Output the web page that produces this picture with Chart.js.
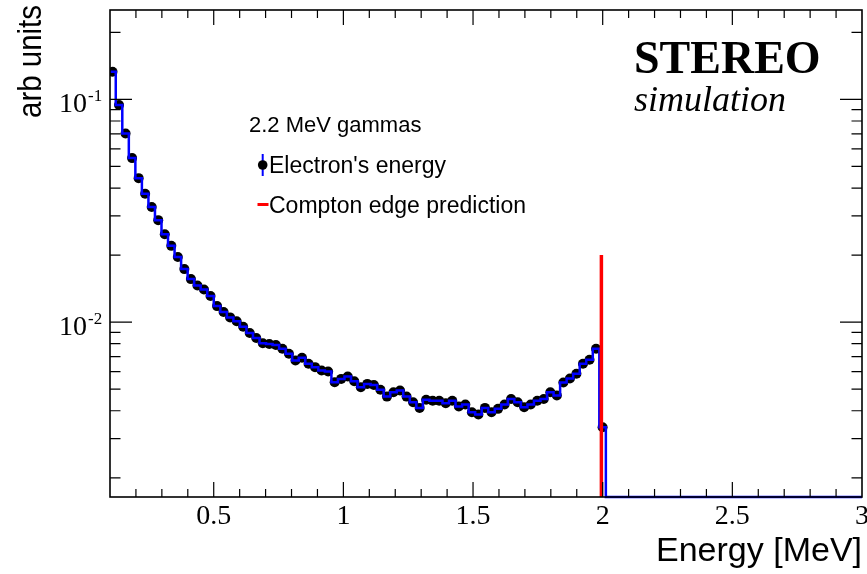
<!DOCTYPE html>
<html>
<head>
<meta charset="utf-8">
<script src="https://cdn.jsdelivr.net/npm/chart.js@4/dist/chart.umd.min.js"></script>
<style>
html,body{margin:0;padding:0;background:#ffffff;}
canvas{display:block;}
</style>
</head>
<body>
<canvas id="c" width="867" height="574"></canvas>
<script>
// ---- data ----
const binLow = 0.097;      // low edge of first bin (MeV)
const binWidth = 0.0252;   // bin width (MeV)
const electronEnergy = [
  0.1331, 0.0943, 0.0703, 0.0545, 0.0443, 0.0377, 0.0329, 0.0287, 0.0248, 0.0220,
  0.0196, 0.0173, 0.0156, 0.0146, 0.0140, 0.0131, 0.0118, 0.0111, 0.0105, 0.0101,
  0.00953, 0.00894, 0.00849, 0.00804, 0.00798, 0.00790, 0.00759, 0.00721, 0.00673, 0.00692,
  0.00650, 0.00628, 0.00607, 0.00600, 0.00537, 0.00556, 0.00570, 0.00543, 0.00510, 0.00528,
  0.00522, 0.00497, 0.00463, 0.00484, 0.00493, 0.00463, 0.00437, 0.00412, 0.00448, 0.00444,
  0.00444, 0.00432, 0.00444, 0.00418, 0.00427, 0.00394, 0.00385, 0.00412, 0.00394, 0.00408,
  0.00427, 0.00452, 0.00437, 0.00415, 0.00427, 0.00444, 0.00452, 0.00484, 0.00468, 0.00536,
  0.00558, 0.00586, 0.00650, 0.00678, 0.00759, 0.00337
];
const comptonEdge = [1.995];
const comptonTop = [0.02];

const xRange = [0.1, 3.0];
const yRange = [0.00164, 0.252];
const xMajorTicks = [0.5, 1, 1.5, 2, 2.5, 3];
const xTickLabels = ['0.5', '1', '1.5', '2', '2.5', '3'];
const xMinorTicks = [0.2,0.3,0.4,0.6,0.7,0.8,0.9,1.1,1.2,1.3,1.4,1.6,1.7,1.8,1.9,2.1,2.2,2.3,2.4,2.6,2.7,2.8,2.9];
const yMajorTicks = [0.01, 0.1];
const yTickBase = ['10', '10'];
const yTickExp = ['-2', '-1'];
const yMinorTicks = [0.002,0.003,0.004,0.005,0.006,0.007,0.008,0.009,0.02,0.03,0.04,0.05,0.06,0.07,0.08,0.09,0.2];

const xTitle = 'Energy [MeV]';
const yTitle = 'arb units';
const legendHeader = '2.2 MeV gammas';
const legendEntries = ["Electron's energy", 'Compton edge prediction'];
const expName = 'STEREO';
const expSub = 'simulation';

// ---- build datasets from the arrays ----
const histPts = electronEnergy.map((v, i) => ({x: binLow + i * binWidth, y: v}));
const lastEdge = binLow + electronEnergy.length * binWidth;
histPts.push({x: lastEdge, y: electronEnergy[electronEnergy.length - 1]});
histPts.push({x: lastEdge, y: yRange[0]});
histPts.push({x: xRange[1], y: yRange[0]});
const markerPts = electronEnergy.map((v, i) => ({x: binLow + (i + 0.5) * binWidth, y: v}));
const comptonPts = [{x: comptonEdge[0], y: yRange[0]}, {x: comptonEdge[0], y: comptonTop[0]}];

const SERIF = '"Liberation Serif", "Times New Roman", serif';
const SANS = '"Liberation Sans", Arial, sans-serif';

const rootStyle = {
  id: 'rootStyle',
  afterDatasetsDraw(chart) {
    const ctx = chart.ctx;
    const a = chart.chartArea;
    const x = chart.scales.x, y = chart.scales.y;
    ctx.save();
    ctx.strokeStyle = '#000';
    ctx.lineWidth = 1.2;
    ctx.beginPath();
    xMajorTicks.forEach(v => {
      const p = x.getPixelForValue(v);
      if (p < a.right - 1) {
        ctx.moveTo(p, a.bottom); ctx.lineTo(p, a.bottom - 15);
        ctx.moveTo(p, a.top); ctx.lineTo(p, a.top + 15);
      }
    });
    xMinorTicks.forEach(v => {
      const p = x.getPixelForValue(v);
      ctx.moveTo(p, a.bottom); ctx.lineTo(p, a.bottom - 8);
      ctx.moveTo(p, a.top); ctx.lineTo(p, a.top + 8);
    });
    yMajorTicks.forEach(v => {
      const p = y.getPixelForValue(v);
      ctx.moveTo(a.left, p); ctx.lineTo(a.left + 22, p);
      ctx.moveTo(a.right, p); ctx.lineTo(a.right - 22, p);
    });
    yMinorTicks.forEach(v => {
      const p = y.getPixelForValue(v);
      ctx.moveTo(a.left, p); ctx.lineTo(a.left + 10.5, p);
      ctx.moveTo(a.right, p); ctx.lineTo(a.right - 10.5, p);
    });
    ctx.stroke();
    ctx.lineWidth = 1.6;
    ctx.strokeRect(a.left, a.top, a.right - a.left, a.bottom - a.top);

    ctx.fillStyle = '#000';
    // x tick labels
    ctx.font = '28px ' + SERIF;
    ctx.textAlign = 'center';
    ctx.textBaseline = 'alphabetic';
    xMajorTicks.forEach((v, i) => {
      ctx.fillText(xTickLabels[i], x.getPixelForValue(v), 524);
    });
    // y tick labels
    yMajorTicks.forEach((v, i) => {
      const p = y.getPixelForValue(v);
      ctx.font = '28px ' + SERIF;
      ctx.textAlign = 'right';
      ctx.fillText(yTickBase[i], 87, p + 13);
      ctx.font = '17px ' + SERIF;
      ctx.textAlign = 'left';
      ctx.fillText(yTickExp[i], 88, p + 1.5);
    });
    // axis titles
    ctx.font = '34px ' + SANS;
    ctx.textAlign = 'right';
    ctx.fillText(xTitle, 862, 561);
    ctx.save();
    ctx.translate(41, 5);
    ctx.rotate(-Math.PI / 2);
    ctx.font = '34px ' + SANS;
    ctx.textAlign = 'right';
    const w = ctx.measureText(yTitle).width;
    ctx.scale(113 / w, 1);
    ctx.fillText(yTitle, 0, 0);
    ctx.restore();

    // legend
    ctx.textAlign = 'left';
    ctx.font = '22px ' + SANS;
    ctx.fillText(legendHeader, 249, 131.5);
    ctx.font = '23px ' + SANS;
    // entry 1 marker: blue error bar + black dot
    ctx.strokeStyle = '#0000ff';
    ctx.lineWidth = 2;
    ctx.beginPath(); ctx.moveTo(262.7, 154); ctx.lineTo(262.7, 176); ctx.stroke();
    ctx.beginPath(); ctx.arc(262.7, 165, 4.8, 0, Math.PI * 2); ctx.fill();
    ctx.fillText(legendEntries[0], 269, 173);
    // entry 2 marker: red dash
    ctx.strokeStyle = '#ff0000';
    ctx.lineWidth = 3;
    ctx.beginPath(); ctx.moveTo(257.5, 204.5); ctx.lineTo(268.5, 204.5); ctx.stroke();
    ctx.fillText(legendEntries[1], 269, 212.5);

    // experiment label
    ctx.font = 'bold 46px ' + SERIF;
    ctx.fillText(expName, 634, 73);
    ctx.font = 'italic 36px ' + SERIF;
    ctx.fillText(expSub, 634, 111);
    ctx.restore();
  }
};

new Chart(document.getElementById('c'), {
  type: 'line',
  data: {
    datasets: [
      {
        label: legendEntries[1],
        data: comptonPts,
        borderColor: '#ff0000',
        borderWidth: 3.5,
        pointRadius: 0,
        fill: false,
        order: 0,
        clip: {left: 0, top: 0, right: 0, bottom: 2}
      },
      {
        label: legendEntries[0] + ' (hist)',
        data: histPts,
        borderColor: '#0000ff',
        borderWidth: 2.5,
        stepped: 'before',
        pointRadius: 0,
        fill: false,
        order: 1,
        clip: {left: 0, top: 0, right: 0, bottom: 2}
      },
      {
        label: legendEntries[0],
        data: markerPts,
        showLine: false,
        pointRadius: 5,
        pointBackgroundColor: '#000000',
        pointBorderColor: '#000000',
        pointBorderWidth: 0,
        order: 2
      }
    ]
  },
  options: {
    responsive: false,
    animation: false,
    devicePixelRatio: 1,
    events: [],
    layout: {padding: {left: 110, top: 10, right: 4, bottom: 77}},
    plugins: {legend: {display: false}, tooltip: {enabled: false}},
    scales: {
      x: {type: 'linear', min: xRange[0], max: xRange[1], display: false},
      y: {type: 'logarithmic', min: yRange[0], max: yRange[1], display: false}
    }
  },
  plugins: [rootStyle]
});
</script>
</body>
</html>
